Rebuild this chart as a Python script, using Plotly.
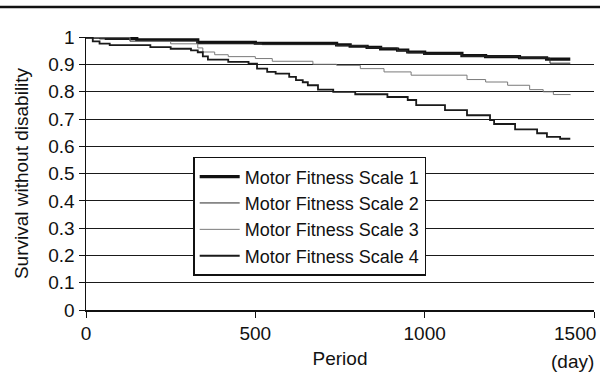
import plotly.graph_objects as go

# ---- data (step curves) ----
series_names = ["Motor Fitness Scale 1", "Motor Fitness Scale 2",
                "Motor Fitness Scale 3", "Motor Fitness Scale 4"]

days_1 = [0, 60, 150, 330, 500, 740, 780, 830, 870, 920, 950, 1000, 1110, 1180, 1280, 1360, 1430]
surv_1 = [1.0, 0.996, 0.991, 0.981, 0.978, 0.972, 0.967, 0.963, 0.957, 0.953, 0.946, 0.941, 0.933, 0.929, 0.925, 0.920, 0.920]

days_2 = [0, 40, 130, 330, 520, 740, 830, 920, 950, 1000, 1110, 1280, 1370, 1430]
surv_2 = [1.0, 0.994, 0.986, 0.976, 0.973, 0.969, 0.961, 0.951, 0.943, 0.938, 0.931, 0.924, 0.905, 0.905]

days_3 = [0, 130, 250, 330, 345, 380, 420, 500, 550, 670, 740, 810, 880, 960, 1125, 1180, 1245, 1310, 1350, 1380, 1430]
surv_3 = [1.0, 0.985, 0.976, 0.961, 0.946, 0.936, 0.929, 0.922, 0.912, 0.901, 0.897, 0.885, 0.873, 0.861, 0.845, 0.836, 0.824, 0.808, 0.800, 0.790, 0.788]

days_4 = [0, 20, 40, 70, 190, 250, 310, 330, 345, 360, 420, 480, 505, 535, 560, 600, 620, 640, 655, 685, 730, 795, 890, 950, 975,
          1060, 1125, 1193, 1205, 1267, 1332, 1361, 1400, 1430]
surv_4 = [1.0, 0.985, 0.977, 0.971, 0.964, 0.958, 0.952, 0.945, 0.930, 0.918, 0.910, 0.903, 0.885, 0.873, 0.867, 0.855, 0.843, 0.835, 0.824, 0.808, 0.800, 0.791, 0.781, 0.770, 0.751,
          0.733, 0.714, 0.696, 0.682, 0.662, 0.648, 0.635, 0.628, 0.628]

y_ticks = [0, 0.1, 0.2, 0.3, 0.4, 0.5, 0.6, 0.7, 0.8, 0.9, 1]
y_tick_text = ["0", "0.1", "0.2", "0.3", "0.4", "0.5", "0.6", "0.7", "0.8", "0.9", "1"]
x_ticks = [0, 500, 1000, 1500]
x_tick_text = ["0", "500", "1000", "1500"]

styles = [dict(color="#111111", width=3.2),
          dict(color="#2a2a2a", width=1),
          dict(color="#7a7a7a", width=1),
          dict(color="#1a1a1a", width=1.8)]

FONT = "Liberation Sans, Arial, Helvetica, sans-serif"

fig = go.Figure()
for name, xs, ys, st in zip(series_names, [days_1, days_2, days_3, days_4],
                            [surv_1, surv_2, surv_3, surv_4], styles):
    fig.add_trace(go.Scatter(x=xs, y=ys, mode="lines", name=name,
                             line=dict(shape="hv", **st)))

# the last x label sits pulled left (right-aligned at its tick) in the reference
axis_labels_shown = x_tick_text[:-1] + [""]

fig.update_layout(
    width=600, height=377,
    margin=dict(l=86, r=6, t=37, b=67, autoexpand=False),
    paper_bgcolor="white", plot_bgcolor="white",
    font=dict(family=FONT, size=19, color="#111111"),
    showlegend=True,
    legend=dict(x=0.211, y=0.561, xanchor="left", yanchor="top",
                bgcolor="white", bordercolor="#111111", borderwidth=1.5,
                font=dict(size=18), tracegroupgap=0, itemwidth=40),
    xaxis=dict(range=[0, 1500], tickvals=x_ticks, ticktext=axis_labels_shown, showgrid=False,
               zeroline=False, showline=True, linecolor="#111111", linewidth=1.5,
               ticks="outside", ticklen=6, tickcolor="#111111",
               automargin=False, tickfont=dict(size=19),
               title=dict(text="Period", font=dict(size=19), standoff=8)),
    yaxis=dict(range=[0, 1.001], tickvals=y_ticks, ticktext=y_tick_text,
               showgrid=True, gridcolor="#1a1a1a", gridwidth=1,
               zeroline=False, showline=True, linecolor="#111111", linewidth=1.5,
               ticks="outside", ticklen=6, tickcolor="#111111",
               automargin=False, tickfont=dict(size=19),
               title=dict(text="Survival without disability", font=dict(size=19), standoff=14)),
    annotations=[
        dict(text=x_tick_text[-1], xref="x", yref="paper", x=x_ticks[-1], y=0,
             xanchor="right", yanchor="top", xshift=4, yshift=-11, showarrow=False,
             font=dict(size=19)),
        dict(text="(day)", xref="paper", yref="paper", x=1.0, y=-0.19,
             xanchor="right", yanchor="middle", xshift=2, showarrow=False,
             font=dict(size=19)),
    ],
    shapes=[dict(type="line", xref="paper", yref="paper", x0=-0.18, x1=1.02,
                 y0=1.11, y1=1.11, line=dict(color="#111111", width=2.5))],
)

fig.write_html("out.html", config={"displayModeBar": False, "staticPlot": True},
               post_script="document.body.style.margin='0';")
